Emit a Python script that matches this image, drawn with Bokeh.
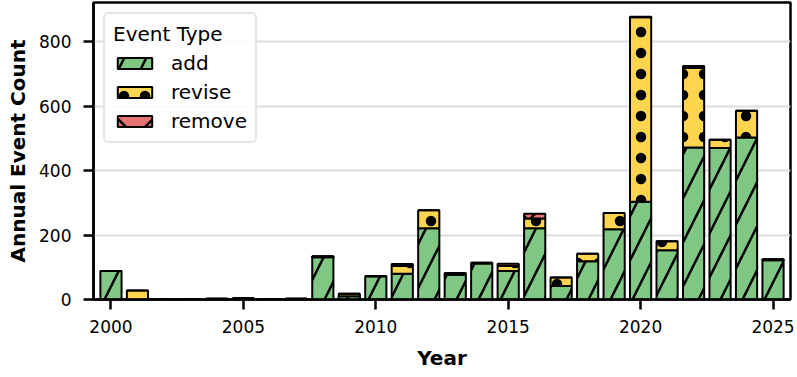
from bokeh.plotting import figure
from bokeh.models import Range1d, FixedTicker, Legend
from bokeh.embed import file_html
from bokeh.resources import INLINE

years = list(range(2000, 2026))
add = [88, 0, 0, 0, 2, 4, 0, 2, 131, 10, 72, 80, 221, 77, 112, 88, 221, 42, 119, 218, 303, 153, 471, 470, 502, 122]
revise = [0, 28, 0, 0, 0, 0, 0, 0, 3, 8, 0, 24, 56, 5, 2, 16, 30, 26, 23, 50, 572, 28, 247, 25, 83, 3]
remove = [0, 0, 0, 0, 0, 0, 0, 0, 0, 0, 0, 6, 0, 0, 0, 7, 15, 0, 0, 0, 2, 0, 6, 0, 0, 0]
series = ["add", "revise", "remove"]
colors = ["#81c784", "#ffd54f", "#e57373"]
hatches = ["/", ".", "x"]
x_ticks = [2000, 2005, 2010, 2015, 2020, 2025]
y_ticks = [0, 200, 400, 600, 800]

FONT = "DejaVu Sans"

p = figure(width=797, height=377, output_backend="svg", toolbar_location=None,
           x_range=Range1d(1999.34, 2025.66), y_range=Range1d(0, 921),
           min_border_left=93, min_border_right=7, min_border_top=2, min_border_bottom=78)

data = {"year": years, "add": add, "revise": revise, "remove": remove}
renderers = p.vbar_stack(series, x="year", width=0.8, source=data,
                         fill_color=colors, line_color="black", line_width=2,
                         hatch_pattern=hatches, hatch_color="black",
                         hatch_scale=[44, 21, 44], hatch_weight=2.5)

p.outline_line_color = "black"
p.outline_line_width = 2.5
p.outline_line_alpha = 1

p.xgrid.visible = False
p.ygrid.grid_line_color = "#dddddd"
p.ygrid.grid_line_width = 2
p.ygrid.ticker = FixedTicker(ticks=y_ticks)

p.xaxis.ticker = FixedTicker(ticks=x_ticks)
p.yaxis.ticker = FixedTicker(ticks=y_ticks)
for ax in (p.xaxis[0], p.yaxis[0]):
    ax.axis_line_color = "black"
    ax.axis_line_width = 2.5
    ax.major_tick_out = 10
    ax.major_tick_in = 0
    ax.major_tick_line_width = 2.5
    ax.minor_tick_line_color = None
    ax.major_label_text_font = FONT
    ax.major_label_text_font_size = "17px"
    ax.major_label_text_color = "black"
    ax.axis_label_text_font = FONT
    ax.axis_label_text_font_size = "20px"
    ax.axis_label_text_font_style = "bold"
    ax.axis_label_text_color = "black"
p.xaxis.axis_label = "Year"
p.yaxis.axis_label = "Annual Event Count"
p.xaxis.major_label_standoff = 10
p.yaxis.major_label_standoff = 12
p.xaxis.axis_label_standoff = 10
p.yaxis.axis_label_standoff = 6

legend = Legend(items=[(s, [r]) for s, r in zip(series, renderers)], location="top_left")
legend.title = "Event Type"
legend.title_text_font = FONT
legend.title_text_font_size = "20px"
legend.title_text_font_style = "normal"
legend.title_text_color = "black"
legend.label_text_font = FONT
legend.label_text_font_size = "20px"
legend.label_text_color = "black"
legend.glyph_width = 43
legend.glyph_height = 14
legend.label_standoff = 15
legend.spacing = 5
legend.padding = 8
legend.margin = 10
legend.border_line_color = "#cccccc"
legend.border_line_width = 2
legend.border_radius = 5
legend.background_fill_alpha = 0.85
p.add_layout(legend)

open("out.html", "w").write(file_html(p, INLINE))
